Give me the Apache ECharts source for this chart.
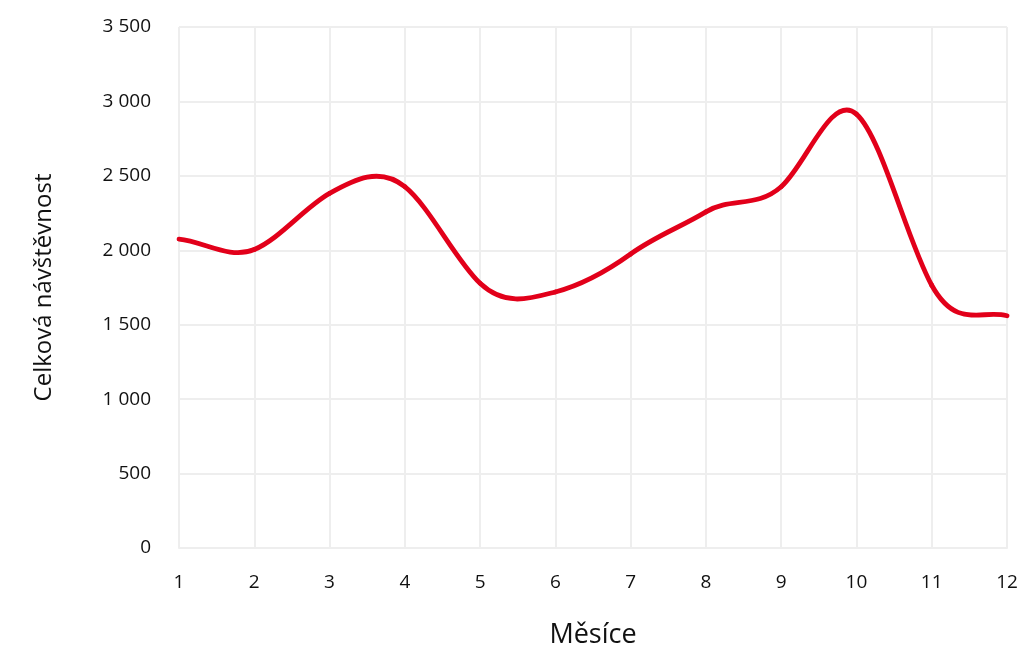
<!DOCTYPE html>
<html>
<head>
<meta charset="utf-8">
<script src="https://cdn.jsdelivr.net/npm/echarts@6/dist/echarts.min.js"></script>
<style>
html,body{margin:0;padding:0;background:#fff;}
#chart{width:1018px;height:651px;}
</style>
</head>
<body>
<div id="chart"></div>
<script>
const months = ['1','2','3','4','5','6','7','8','9','10','11','12'];
const visits = [2075, 2005, 2382, 2427, 1778, 1720, 1975, 2258, 2427, 2915, 1765, 1560];
const yTicks = { min: 0, max: 3500, interval: 500 };
const xTitle = 'Měsíce';
const yTitle = 'Celková návštěvnost';

const font = '"Open Sans", "Noto Sans", sans-serif';
const lineColor = '#e2001a';
const tensionX = 1 / 6;
const tensionY = 0.225;
const n = visits.length;

function renderSegment(params, api) {
  const i = params.dataIndex;
  if (i >= n - 1) return null;
  const P = k => {
    const c = Math.max(0, Math.min(n - 1, k));
    return api.coord([c, visits[c]]);
  };
  const p0 = P(i - 1), p1 = P(i), p2 = P(i + 1), p3 = P(i + 2);
  const w = p2[0] - p1[0];
  return {
    type: 'bezierCurve',
    shape: {
      x1: p1[0], y1: p1[1], x2: p2[0], y2: p2[1],
      cpx1: p1[0] + w * 2 * tensionX, cpy1: p1[1] + (p2[1] - p0[1]) * tensionY,
      cpx2: p2[0] - w * 2 * tensionX, cpy2: p2[1] - (p3[1] - p1[1]) * tensionY
    },
    style: { stroke: lineColor, lineWidth: 4.8, fill: null, lineCap: 'round' }
  };
}

const chart = echarts.init(document.getElementById('chart'), null, { renderer: 'canvas' });
chart.setOption({
  animation: false,
  backgroundColor: '#ffffff',
  grid: { left: 179, right: 11, top: 27, bottom: 103, containLabel: false, outerBoundsMode: 'none' },
  xAxis: {
    type: 'category',
    data: months,
    boundaryGap: false,
    name: xTitle,
    nameLocation: 'middle',
    nameGap: 74,
    nameTextStyle: { fontFamily: font, fontSize: 27, color: '#111' },
    axisLine: { show: true, lineStyle: { color: '#eeeeee', width: 2 } },
    axisTick: { show: false },
    axisLabel: { fontFamily: font, fontSize: 19, color: '#111', margin: 25 },
    splitLine: { show: true, lineStyle: { color: '#eeeeee', width: 2 } }
  },
  yAxis: {
    type: 'value',
    min: yTicks.min, max: yTicks.max, interval: yTicks.interval,
    name: yTitle,
    nameLocation: 'middle',
    nameGap: 123,
    nameRotate: 90,
    nameTextStyle: { fontFamily: font, fontSize: 24, color: '#111' },
    axisLine: { show: false },
    axisTick: { show: false },
    axisLabel: {
      fontFamily: font, fontSize: 19, color: '#111', margin: 28,
      formatter: v => String(v).replace(/\B(?=(\d{3})+(?!\d))/g, ' ')
    },
    splitLine: { show: true, lineStyle: { color: '#eeeeee', width: 2 } }
  },
  series: [{
    type: 'custom',
    data: visits.map((v, i) => [i, v]),
    encode: { x: 0, y: 1 },
    renderItem: renderSegment,
    clip: false
  }]
});
</script>
</body>
</html>
